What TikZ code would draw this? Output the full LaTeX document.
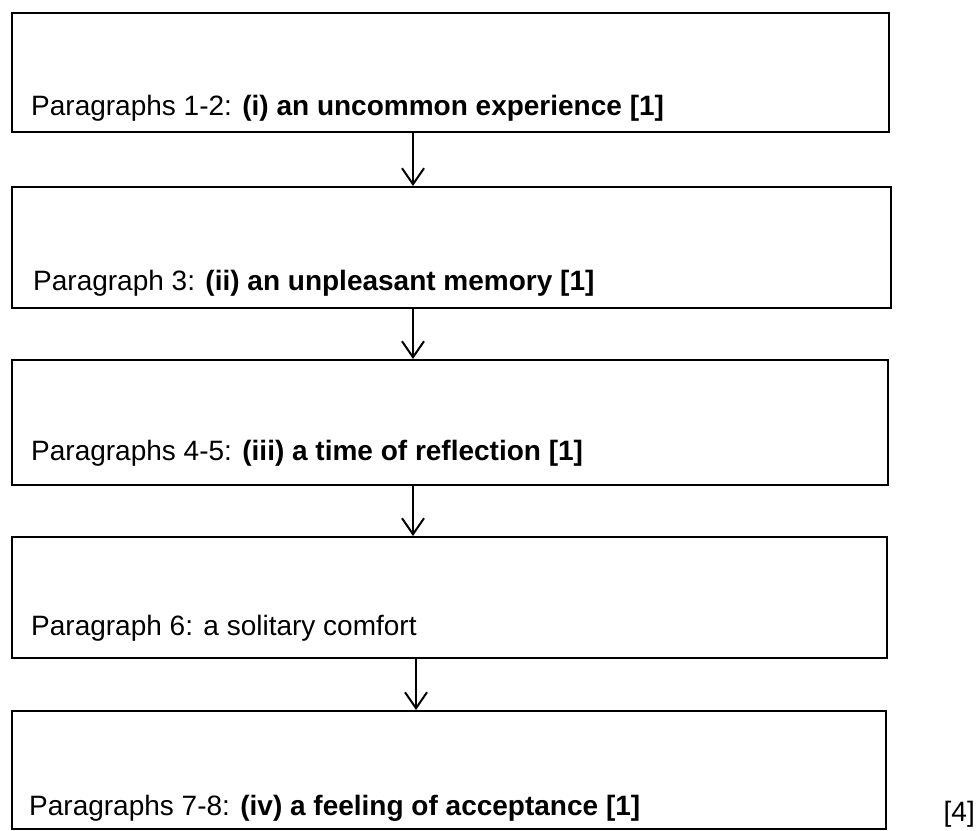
\documentclass[tikz,border=0pt]{standalone}
\usepackage{fontspec}
\setmainfont{Liberation Sans}
\usetikzlibrary{arrows.meta}
\begin{document}
\begin{tikzpicture}[x=1pt,y=-1pt,
  box/.style={draw=black,line width=2.4pt,inner sep=0pt,anchor=north west},
  lbl/.style={anchor=base west,inner sep=0pt,font=\fontsize{28}{34}\selectfont},
  arr/.style={line width=2pt,-{Straight Barb[length=16pt,width=22pt,line width=2pt]}}]
\useasboundingbox (0,0) rectangle (976,830);
\node[box,minimum width=877pt,minimum height=119pt] (b1) at (11,12) {};
\node[box,minimum width=879pt,minimum height=121pt] (b2) at (11,186) {};
\node[box,minimum width=876pt,minimum height=125pt] (b3) at (11,359) {};
\node[box,minimum width=875pt,minimum height=121pt] (b4) at (11,536) {};
\node[box,minimum width=874pt,minimum height=118pt] (b5) at (11,710) {};
\node[lbl] (t1) at (31,115) {Paragraphs 1-2: \textbf{(i) an uncommon experience [1]}};
\node[lbl] (t2) at (33,290) {Paragraph 3: \textbf{(ii) an unpleasant memory [1]}};
\node[lbl] (t3) at (31,460) {Paragraphs 4-5: \textbf{(iii) a time of reflection [1]}};
\node[lbl] (t4) at (31,635) {Paragraph 6: a solitary comfort};
\node[lbl] (t5) at (29,815) {Paragraphs 7-8: \textbf{(iv) a feeling of acceptance [1]}};
\node[lbl,anchor=base east] (m) at (975,821) {[4]};
\draw[arr] ([xshift=402pt]b1.south west) -- ([xshift=402pt]b2.north west);
\draw[arr] ([xshift=402pt]b2.south west) -- ([xshift=402pt]b3.north west);
\draw[arr] ([xshift=402pt]b3.south west) -- ([xshift=402pt]b4.north west);
\draw[arr] ([xshift=405pt]b4.south west) -- ([xshift=405pt]b5.north west);
\end{tikzpicture}
\end{document}
